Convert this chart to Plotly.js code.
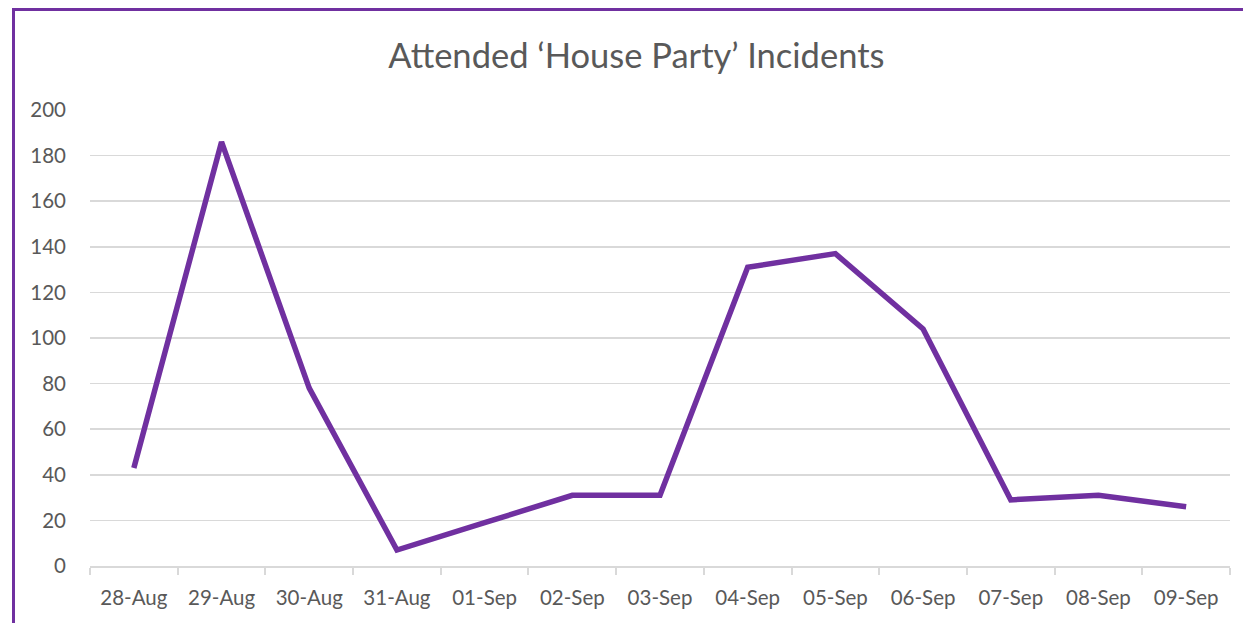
<!DOCTYPE html>
<html>
<head>
<meta charset="utf-8">
<script src="https://cdn.plot.ly/plotly-3.0.1.min.js"></script>
<style>
  html, body { margin: 0; padding: 0; background: #fff; overflow: hidden; }
  #chart { width: 1243px; height: 623px; }
  #frame { position: absolute; left: 12px; top: 8px; width: 3000px; height: 3000px;
           border-left: 3px solid #7030a0; border-top: 3px solid #7030a0; pointer-events: none; }
</style>
</head>
<body>
<div id="chart"></div>
<div id="frame"></div>
<script>
const chartTitle = "Attended \u2018House Party\u2019 Incidents";
const dates = ["28-Aug","29-Aug","30-Aug","31-Aug","01-Sep","02-Sep","03-Sep","04-Sep","05-Sep","06-Sep","07-Sep","08-Sep","09-Sep"];
const incidents = [43, 186, 78, 7, 19, 31, 31, 131, 137, 104, 29, 31, 26];
const yTicks = [0, 20, 40, 60, 80, 100, 120, 140, 160, 180, 200];

const fontFam = "Lato, 'Open Sans', sans-serif";
const trace = {
  x: dates,
  y: incidents,
  type: "scatter",
  mode: "lines",
  line: { color: "#7030a0", width: 5.5 },
  hoverinfo: "x+y"
};
const layout = {
  width: 1243, height: 623,
  margin: { l: 90, r: 13, t: 110, b: 57 },
  paper_bgcolor: "#ffffff",
  plot_bgcolor: "#ffffff",
  showlegend: false,
  title: { text: chartTitle, x: 0.512, xanchor: "center", y: 0.91, yanchor: "middle",
           font: { family: fontFam, size: 34.5, color: "#595959" } },
  xaxis: {
    type: "category",
    range: [-0.5, dates.length - 0.5],
    showgrid: false,
    showline: true, linecolor: "#d9d9d9", linewidth: 2,
    ticks: "outside", tickson: "boundaries", ticklen: 7, tickcolor: "#d9d9d9", tickwidth: 2,
    ticklabelstandoff: 12,
    tickfont: { family: fontFam, size: 20.5, color: "#595959" },
    zeroline: false, fixedrange: true
  },
  yaxis: {
    range: [0, 200],
    tickvals: yTicks,
    showgrid: true, gridcolor: "#d9d9d9", gridwidth: 1.5,
    showline: false, zeroline: false,
    ticks: "", ticklabelstandoff: 23,
    tickfont: { family: fontFam, size: 20.5, color: "#595959" },
    fixedrange: true
  }
};
Plotly.newPlot("chart", [trace], layout, { displayModeBar: false, staticPlot: true });
</script>
</body>
</html>
